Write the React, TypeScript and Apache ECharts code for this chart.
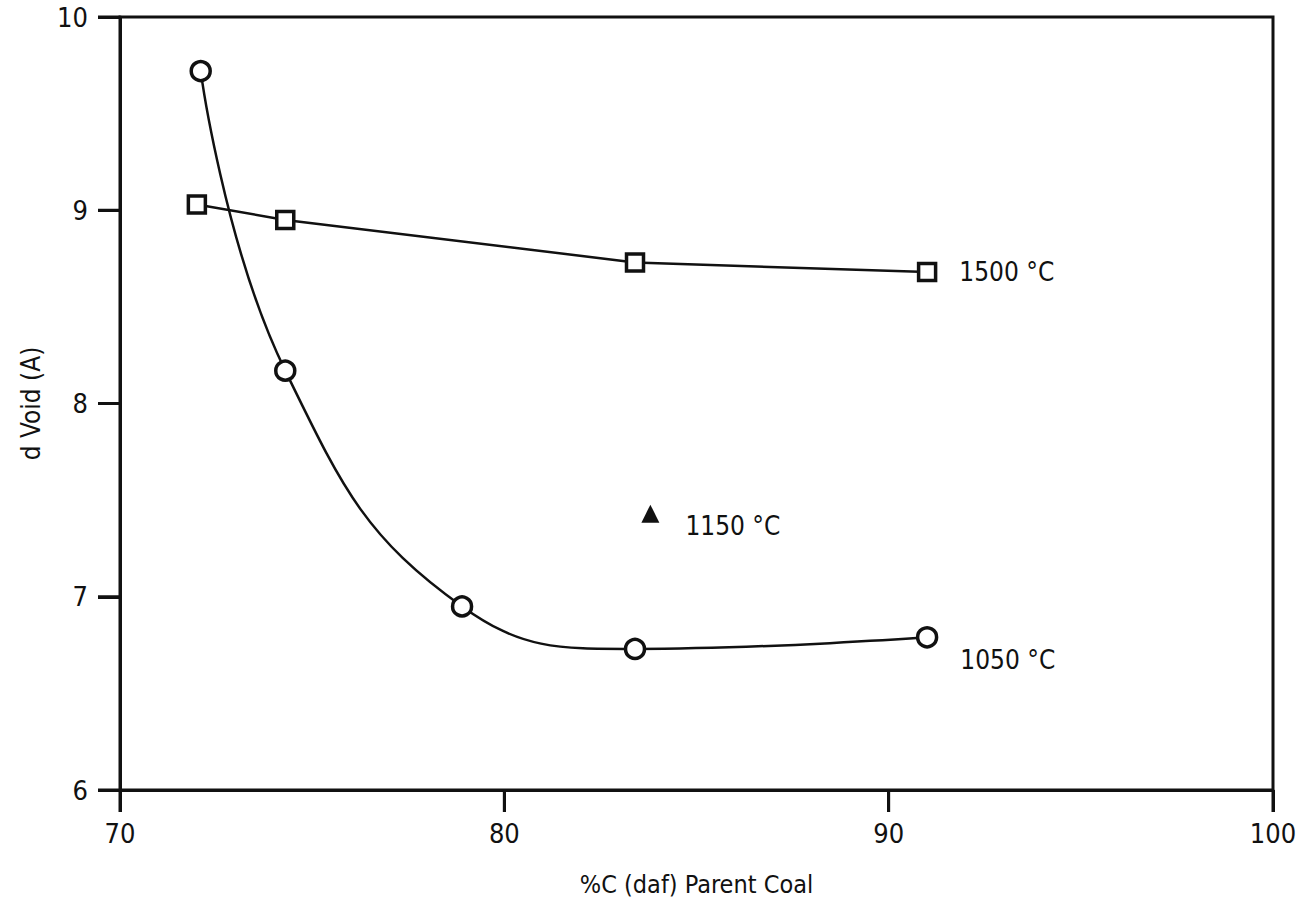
import React, { useEffect, useRef } from "react";
import * as echarts from "echarts";

// %C (daf) of parent coal and void diameter (A) at each heat-treatment temperature
const c1050X = [72.1, 74.3, 78.9, 83.4, 91.0];
const c1050Y = [9.72, 8.17, 6.95, 6.73, 6.79];
const c1500X = [72.0, 74.3, 83.4, 91.0];
const c1500Y = [9.03, 8.95, 8.73, 8.68];
const c1150X = [83.8];
const c1150Y = [7.43];

const seriesNames = ["1050 °C", "1500 °C", "1150 °C"];
const xTicks = [70, 80, 90, 100];
const yTicks = [6, 7, 8, 9, 10];

const INK = "#111";
const FONT = "'Liberation Sans Narrow', 'DejaVu Sans Condensed', 'Open Sans', sans-serif";
const TICK_LEN = 22;
const TICK_W = 3;
const GRID = { left: 120, right: 29, top: 17, bottom: 110 };
const W = 1302;
const H = 900;

function pairs(xs: number[], ys: number[]) {
  return xs.map((x, i) => [x, ys[i]]);
}

function withEndLabel(xs: number[], ys: number[], text: string, offset: number[]) {
  const pts = pairs(xs, ys);
  return pts.map((p, i) =>
    i === pts.length - 1
      ? {
          value: p,
          label: {
            show: true,
            position: "right",
            distance: 22,
            offset,
            formatter: text,
            color: INK,
            opacity: 1,
            fontFamily: FONT,
            fontSize: 26,
          },
        }
      : { value: p }
  );
}

// Pixel position of a data point, through the chart's own scales
function toPixel(chart: echarts.ECharts, x: number, y: number): number[] {
  const p = chart.convertToPixel({ seriesIndex: 0 }, [x, y]) as any;
  if (p && isFinite(p[0]) && isFinite(p[1])) return [p[0], p[1]];
  const xMin = xTicks[0];
  const xMax = xTicks[xTicks.length - 1];
  const yMin = yTicks[0];
  const yMax = yTicks[yTicks.length - 1];
  const pw = W - GRID.left - GRID.right;
  const ph = H - GRID.top - GRID.bottom;
  return [
    GRID.left + ((x - xMin) / (xMax - xMin)) * pw,
    GRID.top + ((yMax - y) / (yMax - yMin)) * ph,
  ];
}

export default function App() {
  const ref = useRef<HTMLDivElement>(null);

  useEffect(() => {
    if (!ref.current) return;
    const chart = echarts.init(ref.current, undefined, { renderer: "svg" });

    const axisLine = { show: true, onZero: false, lineStyle: { color: INK, width: 3 } };
    const labelStyle = { show: true, color: INK, fontFamily: FONT, fontSize: 27 };
    const axisTick = { show: true, length: TICK_LEN, lineStyle: { color: INK, width: 3 } };

    chart.setOption({
      animation: false,
      backgroundColor: "#fff",
      grid: {
        ...GRID,
        containLabel: false,
        outerBoundsMode: "none",
        show: true,
        borderColor: INK,
        borderWidth: 3,
        backgroundColor: "transparent",
      },
      xAxis: {
        type: "value",
        min: xTicks[0],
        max: xTicks[xTicks.length - 1],
        interval: 10,
        position: "bottom",
        axisLine,
        axisTick,
        axisLabel: { ...labelStyle, margin: 30 },
        splitLine: { show: false },
        name: "%C (daf) Parent Coal",
        nameLocation: "middle",
        nameGap: 82,
        nameTextStyle: { color: INK, fontFamily: FONT, fontSize: 25 },
      },
      yAxis: {
        type: "value",
        min: yTicks[0],
        max: yTicks[yTicks.length - 1],
        interval: 1,
        position: "left",
        axisLine,
        axisTick,
        axisLabel: { ...labelStyle, margin: 32 },
        splitLine: { show: false },
        name: "d Void (A)",
        nameLocation: "middle",
        nameGap: 76,
        nameTextStyle: { color: INK, fontFamily: FONT, fontSize: 26 },
      },
      series: [
        {
          name: seriesNames[0],
          type: "line",
          smooth: 0.45,
          symbol: "circle",
          symbolSize: 19,
          itemStyle: { color: "#fff", borderColor: INK, borderWidth: 3.5 },
          lineStyle: { color: INK, width: 2.5 },
          data: withEndLabel(c1050X, c1050Y, seriesNames[0], [0, 23]),
          z: 3,
        },
        {
          name: seriesNames[1],
          type: "line",
          symbol: "rect",
          symbolSize: 17,
          itemStyle: { color: "#fff", borderColor: INK, borderWidth: 3.5 },
          lineStyle: { color: INK, width: 2.5 },
          data: withEndLabel(c1500X, c1500Y, seriesNames[1], [0, 0]),
          z: 3,
        },
        {
          name: seriesNames[2],
          type: "scatter",
          symbol: "triangle",
          symbolSize: 18,
          itemStyle: { color: INK, opacity: 1 },
          data: withEndLabel(c1150X, c1150Y, seriesNames[2], [4, 12]),
          z: 3,
        },
      ],
    });

    // Outward tick marks as thin filled bars, placed with x/y transforms
    const ticks: any[] = [];
    xTicks.forEach((v) => {
      const p = toPixel(chart, v, yTicks[0]);
      ticks.push({
        type: "rect",
        silent: true,
        z: 100,
        x: p[0] - TICK_W / 2,
        y: p[1],
        shape: { x: 0, y: 0, width: TICK_W, height: TICK_LEN },
        style: { fill: INK, stroke: "none" },
      });
    });
    yTicks.forEach((v) => {
      const p = toPixel(chart, xTicks[0], v);
      ticks.push({
        type: "rect",
        silent: true,
        z: 100,
        x: p[0] - TICK_LEN,
        y: p[1] - TICK_W / 2,
        shape: { x: 0, y: 0, width: TICK_LEN, height: TICK_W },
        style: { fill: INK, stroke: "none" },
      });
    });
    chart.setOption({ graphic: { elements: ticks } });

    return () => chart.dispose();
  }, []);

  return (
    <div
      ref={ref}
      style={{ position: "fixed", left: 0, top: 0, width: W, height: H, background: "#fff" }}
    />
  );
}
